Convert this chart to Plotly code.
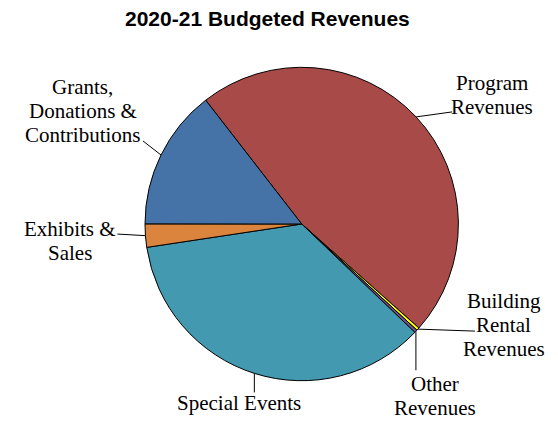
import numpy as np
import plotly.graph_objects as go

# ---- data -------------------------------------------------------------
categories = [
    "Program Revenues",
    "Building Rental Revenues",
    "Other Revenues",
    "Special Events",
    "Exhibits & Sales",
    "Grants, Donations & Contributions",
]
shares = [47.1, 0.3, 0.3, 35.5, 2.4, 14.5]  # percent of budgeted revenue
label_lines = [
    ["Program", "Revenues"],
    ["Building", "Rental", "Revenues"],
    ["Other", "Revenues"],
    ["Special Events"],
    ["Exhibits &", "Sales"],
    ["Grants,", "Donations &", "Contributions"],
]
colors = ["#A84A48", "#FFFF00", "#6E548C", "#4299B0", "#DB843D", "#4673A7"]
title_text = "2020-21 Budgeted Revenues"

# ---- layout (pixels) --------------------------------------------------
W, H = 558, 423
CX, CY, R = 301.7, 224.0, 156.7
START_ANGLE = 322.2  # first slice starts here, clockwise from 12 o'clock
LINE_STEP = 24       # spacing between label lines

# leader line end relative to the slice edge, and label centre relative to that end
leader_end = [(36, -5), (57, 2), (0, 39), (0, 19), (-28, -1.6), (-18, -14)]
text_shift = [(40, -16.5), (29, -6.5), (19, 25.5), (-15, 11), (-47.5, 6.5), (-60.5, -30)]


def px(x):
    return x / W


def py(y):
    return 1 - y / H


fig = go.Figure(
    go.Pie(
        labels=categories,
        values=shares,
        sort=False,
        direction="clockwise",
        rotation=START_ANGLE - 360,
        marker=dict(colors=colors, line=dict(color="#000000", width=1)),
        textinfo="none",
        hoverinfo="label+percent",
        showlegend=False,
        domain=dict(x=[px(CX - R), px(CX + R)], y=[py(CY + R), py(CY - R)]),
    )
)

# leader lines and labels, anchored at each slice's mid-angle
vals = np.array(shares, dtype=float)
frac = vals / vals.sum()
mid = START_ANGLE + 360 * (np.cumsum(frac) - frac / 2)
shapes, annotations = [], []
for i, lines in enumerate(label_lines):
    a = np.radians(mid[i])
    ex, ey = CX + R * np.sin(a), CY - R * np.cos(a)
    lx, ly = ex + leader_end[i][0], ey + leader_end[i][1]
    shapes.append(dict(type="line", xref="paper", yref="paper",
                       x0=px(ex), y0=py(ey), x1=px(lx), y1=py(ly),
                       line=dict(color="#000000", width=1)))
    tx, ty = lx + text_shift[i][0], ly + text_shift[i][1]
    n = len(lines)
    for k, s in enumerate(lines):
        yy = ty + (k - (n - 1) / 2) * LINE_STEP
        annotations.append(dict(xref="paper", yref="paper", x=px(tx), y=py(yy),
                                text=s, showarrow=False, xanchor="center", yanchor="middle",
                                font=dict(family="Liberation Serif", size=21, color="#000000")))

annotations.append(dict(xref="paper", yref="paper", x=px(267.5), y=py(19),
                        text="<b>" + title_text + "</b>", showarrow=False,
                        xanchor="center", yanchor="middle",
                        font=dict(family="Liberation Sans", size=21, color="#000000")))

fig.update_layout(
    width=W, height=H,
    margin=dict(l=0, r=0, t=0, b=0),
    paper_bgcolor="#FFFFFF",
    plot_bgcolor="#FFFFFF",
    shapes=shapes,
    annotations=annotations,
)

fig.write_html("out.html")
